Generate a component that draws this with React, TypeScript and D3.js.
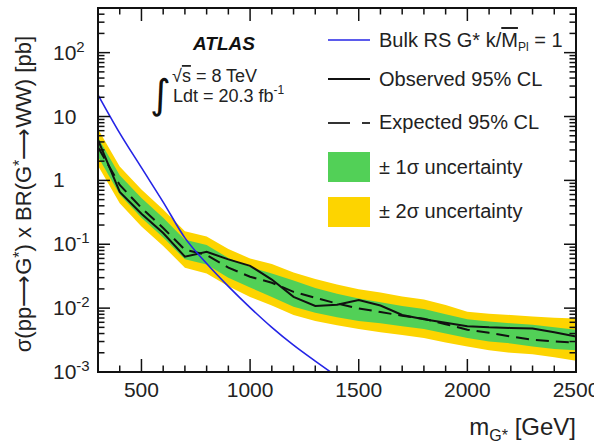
import React, { useEffect, useRef } from "react";
import * as d3 from "d3";

// graviton mass points [GeV]
const masses = [300, 400, 500, 600, 700, 800, 900, 1000, 1100, 1200, 1300, 1400, 1500, 1600, 1700, 1800, 1900, 2000, 2100, 2200, 2300, 2400, 2500];
// limits on sigma x BR [pb]
const observed = [4.3, 0.66, 0.30, 0.15, 0.064, 0.076, 0.058, 0.046, 0.028, 0.015, 0.0108, 0.0113, 0.0134, 0.0110, 0.0078, 0.0067, 0.0059, 0.0052, 0.0050, 0.0049, 0.0048, 0.0042, 0.0036];
const expected = [3.3, 0.85, 0.37, 0.18, 0.082, 0.068, 0.043, 0.031, 0.025, 0.018, 0.0145, 0.0118, 0.0099, 0.0087, 0.0076, 0.0068, 0.0056, 0.0046, 0.0041, 0.0036, 0.0032, 0.0030, 0.0029];
const plus1 = [4.7, 1.2, 0.53, 0.26, 0.118, 0.097, 0.061, 0.044, 0.035, 0.027, 0.0206, 0.0168, 0.0141, 0.0124, 0.0108, 0.0097, 0.0080, 0.0067, 0.0062, 0.0058, 0.0055, 0.0050, 0.0046];
const minus1 = [2.35, 0.60, 0.26, 0.128, 0.058, 0.048, 0.030, 0.021, 0.015, 0.0105, 0.0085, 0.0072, 0.0063, 0.0058, 0.0052, 0.0047, 0.0040, 0.0034, 0.0030, 0.0028, 0.0025, 0.0023, 0.0022];
const plus2 = [6.4, 1.65, 0.72, 0.35, 0.16, 0.132, 0.084, 0.060, 0.049, 0.036, 0.0285, 0.0235, 0.0198, 0.0175, 0.0152, 0.0137, 0.0112, 0.0088, 0.0082, 0.0078, 0.0074, 0.0071, 0.0069];
const minus2 = [1.7, 0.44, 0.19, 0.094, 0.043, 0.035, 0.022, 0.015, 0.011, 0.0078, 0.0063, 0.0054, 0.0047, 0.0042, 0.0038, 0.0034, 0.0029, 0.0025, 0.0022, 0.0020, 0.0019, 0.0017, 0.0015];

// Bulk RS G*, k/MPl = 1
const theoryMass = [300, 400, 500, 600, 700, 800, 900, 1000, 1100, 1200, 1300, 1400];
const theory = [21.9, 5.5, 1.58, 0.457, 0.126, 0.050, 0.0219, 0.0102, 0.0050, 0.00263, 0.00148, 0.00085];

const xTickLabels = [500, 1000, 1500, 2000, 2500];
const yDecades = [-3, -2, -1, 0, 1, 2];

const W = 594;
const H = 446;
const FONT = "'Liberation Sans', Arial, Helvetica, sans-serif";

const App = () => {
  const svgRef = useRef(null);

  useEffect(() => {
    const svg = d3.select(svgRef.current);
    svg.selectAll("*").remove();

    const plot = { left: 98, right: 576, top: 8, bottom: 372 };
    const x = d3.scaleLinear().domain([300, 2500]).range([plot.left, plot.right]);
    const y = d3.scaleLog().domain([1e-3, 500]).range([plot.bottom, plot.top]);

    svg.append("defs").append("clipPath").attr("id", "plotclip")
      .append("rect")
      .attr("x", plot.left).attr("y", plot.top)
      .attr("width", plot.right - plot.left).attr("height", plot.bottom - plot.top);

    const g = svg.append("g").attr("clip-path", "url(#plotclip)");

    const band = (lo, hi) =>
      d3.area().x((d, i) => x(masses[i])).y0((d, i) => y(lo[i])).y1((d, i) => y(hi[i]))(masses);

    // +-2 sigma and +-1 sigma bands
    g.append("path").attr("d", band(minus2, plus2)).attr("fill", "#fdd400");
    g.append("path").attr("d", band(minus1, plus1)).attr("fill", "#52d057");

    const line = (vals) => d3.line().x((d, i) => x(masses[i])).y((d, i) => y(vals[i]))(masses);

    g.append("path").attr("d", line(expected)).attr("fill", "none")
      .attr("stroke", "#111").attr("stroke-width", 2).attr("stroke-dasharray", "13,7");
    g.append("path").attr("d", line(observed)).attr("fill", "none")
      .attr("stroke", "#111").attr("stroke-width", 2);

    const theoryLine = d3.line().curve(d3.curveMonotoneX)
      .x((d, i) => x(theoryMass[i])).y((d, i) => y(theory[i]));
    g.append("path").attr("d", theoryLine(theoryMass)).attr("fill", "none")
      .attr("stroke", "#2424e6").attr("stroke-width", 1.6);

    // frame
    svg.append("rect")
      .attr("x", plot.left).attr("y", plot.top)
      .attr("width", plot.right - plot.left).attr("height", plot.bottom - plot.top)
      .attr("fill", "none").attr("stroke", "#111").attr("stroke-width", 2);

    // x ticks, bottom and top
    const ticks = svg.append("g").attr("stroke", "#111").attr("stroke-width", 1.5);
    d3.range(300, 2501, 100).forEach((m) => {
      const len = m % 500 === 0 ? 13 : 6.5;
      ticks.append("line").attr("x1", x(m)).attr("x2", x(m))
        .attr("y1", plot.bottom).attr("y2", plot.bottom - len);
      ticks.append("line").attr("x1", x(m)).attr("x2", x(m))
        .attr("y1", plot.top).attr("y2", plot.top + len);
    });

    // y ticks, left and right
    yDecades.concat([3]).forEach((d) => {
      for (let k = 1; k <= 9; k++) {
        const v = k * Math.pow(10, d);
        if (v < 1e-3 || v > 500) continue;
        const len = k === 1 ? 12 : 6.5;
        ticks.append("line").attr("y1", y(v)).attr("y2", y(v))
          .attr("x1", plot.left).attr("x2", plot.left + len);
        ticks.append("line").attr("y1", y(v)).attr("y2", y(v))
          .attr("x1", plot.right).attr("x2", plot.right - len);
      }
    });

    // x tick labels (2500 runs off the right edge, as in the original)
    svg.append("g").selectAll("text").data(xTickLabels).enter().append("text")
      .attr("x", (d) => x(d)).attr("y", 397)
      .attr("text-anchor", "middle")
      .style("font-family", FONT).style("font-size", "21px").attr("fill", "#222")
      .text((d) => d);

    // y tick labels
    yDecades.forEach((d) => {
      const t = svg.append("text")
        .attr("x", 53).attr("y", y(Math.pow(10, d)) + 7)
        .style("font-family", FONT).style("font-size", "21px").attr("fill", "#222");
      if (d === 0) t.text("1");
      else if (d === 1) t.text("10");
      else {
        t.append("tspan").text("10");
        t.append("tspan").attr("dy", -8).style("font-size", "15px").text(d);
      }
    });

    // axis titles
    const yt = svg.append("text")
      .attr("transform", "translate(31,36) rotate(-90)")
      .attr("text-anchor", "end")
      .style("font-family", FONT).style("font-size", "22px").attr("fill", "#222");
    yt.append("tspan").text("σ(pp⟶G");
    yt.append("tspan").attr("dy", -6).style("font-size", "16px").text("*");
    yt.append("tspan").attr("dy", 6).text(") x BR(G");
    yt.append("tspan").attr("dy", -6).style("font-size", "16px").text("*");
    yt.append("tspan").attr("dy", 6).text("⟶WW) [pb]");

    const xt = svg.append("text")
      .attr("x", plot.right).attr("y", 435)
      .attr("text-anchor", "end")
      .style("font-family", FONT).style("font-size", "24px").attr("fill", "#222");
    xt.append("tspan").text("m");
    xt.append("tspan").attr("dy", 6).style("font-size", "16px").text("G*");
    xt.append("tspan").attr("dy", -6).text(" [GeV]");

    // ATLAS label
    svg.append("text").attr("x", 193).attr("y", 50)
      .style("font-family", FONT).style("font-size", "19px")
      .style("font-weight", "bold").style("font-style", "italic").attr("fill", "#111")
      .text("ATLAS");

    svg.append("text").attr("x", 150).attr("y", 108)
      .style("font-family", "'DejaVu Sans', sans-serif").style("font-size", "40px")
      .attr("fill", "#111").text("∫");

    const rs = svg.append("text").attr("x", 172).attr("y", 82)
      .style("font-family", FONT).style("font-size", "18px").attr("fill", "#222");
    rs.append("tspan").text("√");
    rs.append("tspan").style("text-decoration", "overline").text("s");
    rs.append("tspan").text(" = 8 TeV");

    const lumi = svg.append("text").attr("x", 173).attr("y", 102)
      .style("font-family", FONT).style("font-size", "18px").attr("fill", "#222");
    lumi.append("tspan").text("Ldt = 20.3 fb");
    lumi.append("tspan").attr("dy", -8).style("font-size", "12px").text("-1");

    // legend
    const lx0 = 328;
    const lx1 = 370;
    const tx = 379;
    const leg = svg.append("g").style("font-family", FONT).style("font-size", "20px").attr("fill", "#222");

    leg.append("line").attr("x1", lx0).attr("x2", lx1).attr("y1", 40).attr("y2", 40)
      .attr("stroke", "#2424e6").attr("stroke-width", 1.6);
    const l1 = leg.append("text").attr("x", tx).attr("y", 47);
    l1.append("tspan").text("Bulk RS G* k/");
    l1.append("tspan").style("text-decoration", "overline").text("M");
    l1.append("tspan").attr("dy", 4).style("font-size", "12px").text("Pl");
    l1.append("tspan").attr("dy", -4).text(" = 1");

    leg.append("line").attr("x1", lx0).attr("x2", lx1).attr("y1", 79).attr("y2", 79)
      .attr("stroke", "#111").attr("stroke-width", 2);
    leg.append("text").attr("x", tx).attr("y", 86).text("Observed 95% CL");

    leg.append("line").attr("x1", lx0).attr("x2", lx1).attr("y1", 123).attr("y2", 123)
      .attr("stroke", "#333").attr("stroke-width", 2.2).attr("stroke-dasharray", "22,12,8");
    leg.append("text").attr("x", tx).attr("y", 129).text("Expected 95% CL");

    leg.append("rect").attr("x", lx0).attr("y", 152).attr("width", lx1 - lx0).attr("height", 30)
      .attr("fill", "#52d057");
    leg.append("text").attr("x", tx).attr("y", 174).text("± 1σ uncertainty");

    leg.append("rect").attr("x", lx0).attr("y", 197).attr("width", lx1 - lx0).attr("height", 30)
      .attr("fill", "#fdd400");
    leg.append("text").attr("x", tx).attr("y", 218).text("± 2σ uncertainty");
  }, []);

  return (
    <svg
      ref={svgRef}
      width={W}
      height={H}
      style={{ position: "absolute", left: 0, top: 0, background: "#fff" }}
    />
  );
};

export default App;
